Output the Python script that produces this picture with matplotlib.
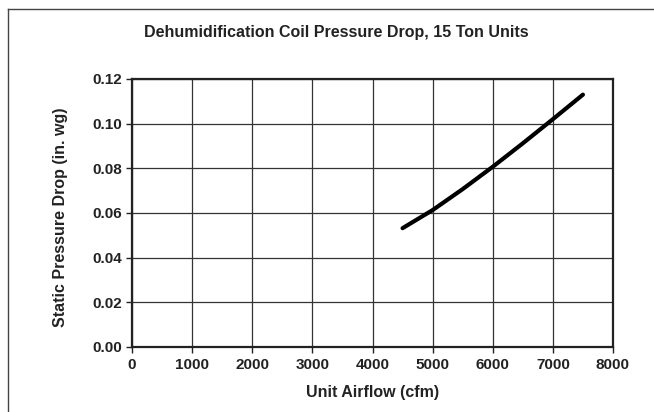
import matplotlib
matplotlib.use("Agg")
import matplotlib.pyplot as plt
from matplotlib.lines import Line2D

plt.rcParams['font.family'] = ['Liberation Sans', 'DejaVu Sans']

airflow = [4500, 5000, 5500, 6000, 6500, 7000, 7500]
pressure_drop = [0.0532, 0.0613, 0.0707, 0.0807, 0.0912, 0.1020, 0.1130]
x_ticks = [0, 1000, 2000, 3000, 4000, 5000, 6000, 7000, 8000]
y_ticks = [0.00, 0.02, 0.04, 0.06, 0.08, 0.10, 0.12]
title = "Dehumidification Coil Pressure Drop, 15 Ton Units"
x_label = "Unit Airflow (cfm)"
y_label = "Static Pressure Drop (in. wg)"

W, H = 654, 412
fig = plt.figure(figsize=(W / 100, H / 100), dpi=100)
L, R, T, B = 132, 613, 79, 347
ax = fig.add_axes([L / W, 1 - B / H, (R - L) / W, (B - T) / H])

ax.plot(airflow, pressure_drop, color='black', linewidth=3, solid_capstyle='round')
ax.set_xlim(0, 8000)
ax.set_ylim(0, 0.12)
ax.set_xticks(x_ticks)
ax.set_yticks(y_ticks)
ax.set_xticklabels([str(t) for t in x_ticks], fontsize=11, fontweight='bold', color='#222222')
ax.set_yticklabels([f"{t:.2f}" for t in y_ticks], fontsize=11, fontweight='bold', color='#222222')
ax.grid(True, color='#333333', linewidth=0.9)
ax.set_axisbelow(True)
for s in ax.spines.values():
    s.set_linewidth(1.6)
    s.set_color('#222222')
ax.tick_params(direction='out', length=4, width=1, pad=3, colors='#222222')
ax.tick_params(axis='x', pad=4)

fig.text(392 / W * 0 + (L + R) / 2 / W, 1 - 392 / H, x_label, ha='center', va='center',
         fontsize=11.5, fontweight='bold', color='#222222')
fig.text(60 / W, 1 - ((T + B) / 2 + 4) / H, y_label, ha='center', va='center', rotation=90,
         fontsize=11.5, fontweight='bold', color='#222222')
fig.text(336 / W, 1 - 33 / H, title, ha='center', va='center', fontsize=11.5,
         fontweight='bold', color='#222222')

# outer frame
fig.add_artist(Line2D([8 / W, 1], [1 - 9 / H, 1 - 9 / H], transform=fig.transFigure,
                      color='#444444', linewidth=1))
fig.add_artist(Line2D([8 / W, 8 / W], [0, 1 - 9 / H], transform=fig.transFigure,
                      color='#444444', linewidth=1))

fig.savefig("out.png", dpi=100)
